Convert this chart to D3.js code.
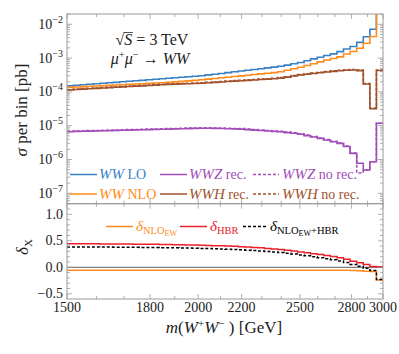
<!DOCTYPE html>
<html>
<head>
<meta charset="utf-8">
<script src="https://cdn.jsdelivr.net/npm/d3@7"></script>
<style>
  body { margin: 0; background: #fff; }
</style>
</head>
<body>
<div id="chart"></div>
<script>
// bin edges of m(W+W-) in GeV (48 bins)
const binEdges = [1500,1522,1544,1566,1589,1612,1636,1660,1684,1708,1733,1758,1784,1810,1836,1863,1890,1917,1945,1974,2002,2031,2061,2091,2121,2152,2184,2215,2247,2280,2313,2347,2381,2416,2451,2487,2523,2559,2597,2634,2673,2712,2751,2791,2832,2873,2915,2957,3000];

// sigma per bin [pb]
const wwLO = [1.51e-4,1.57e-4,1.62e-4,1.68e-4,1.74e-4,1.80e-4,1.86e-4,1.92e-4,1.99e-4,2.06e-4,2.13e-4,2.20e-4,2.28e-4,2.36e-4,2.46e-4,2.54e-4,
  2.63e-4,2.72e-4,2.82e-4,2.91e-4,3.01e-4,3.18e-4,3.34e-4,3.52e-4,3.72e-4,3.93e-4,4.15e-4,4.38e-4,4.60e-4,4.86e-4,5.13e-4,5.42e-4,
  5.72e-4,6.21e-4,6.78e-4,7.41e-4,8.38e-4,9.47e-4,1.06e-3,1.19e-3,1.33e-3,1.55e-3,1.86e-3,2.20e-3,2.93e-3,4.30e-3,7.11e-3,3.0e-2];
const wwNLO = [1.37e-4,1.40e-4,1.43e-4,1.47e-4,1.50e-4,1.53e-4,1.57e-4,1.60e-4,1.63e-4,1.68e-4,1.71e-4,1.75e-4,1.80e-4,1.83e-4,1.87e-4,1.92e-4,
  1.98e-4,2.05e-4,2.12e-4,2.19e-4,2.28e-4,2.39e-4,2.49e-4,2.61e-4,2.72e-4,2.86e-4,2.97e-4,3.12e-4,3.27e-4,3.41e-4,3.57e-4,3.72e-4,
  3.94e-4,4.36e-4,4.82e-4,5.35e-4,6.04e-4,6.78e-4,7.72e-4,8.79e-4,9.73e-4,1.09e-3,1.32e-3,1.57e-3,1.95e-3,2.74e-3,4.36e-3,3.0e-2];
const wwzRec = [6.68e-6,6.78e-6,6.83e-6,6.92e-6,7.01e-6,7.06e-6,7.16e-6,7.26e-6,7.31e-6,7.41e-6,7.52e-6,7.57e-6,7.67e-6,7.78e-6,7.82e-6,7.93e-6,
  8.04e-6,8.15e-6,8.20e-6,8.32e-6,8.38e-6,8.38e-6,8.32e-6,8.26e-6,8.15e-6,8.04e-6,7.93e-6,7.67e-6,7.41e-6,7.21e-6,6.97e-6,6.78e-6,
  6.61e-6,6.25e-6,5.96e-6,5.61e-6,5.10e-6,4.63e-6,4.21e-6,3.77e-6,3.36e-6,2.99e-6,2.43e-6,1.52e-6,7.72e-7,4.89e-7,8.61e-7,1.18e-5];
const wwzNoRec = [6.88e-6,6.98e-6,7.03e-6,7.13e-6,7.22e-6,7.27e-6,7.37e-6,7.48e-6,7.53e-6,7.63e-6,7.75e-6,7.80e-6,7.90e-6,8.01e-6,8.05e-6,8.17e-6,
  8.28e-6,8.39e-6,8.45e-6,8.57e-6,8.63e-6,8.63e-6,8.57e-6,8.51e-6,8.39e-6,8.28e-6,8.17e-6,7.90e-6,7.63e-6,7.43e-6,7.18e-6,6.98e-6,
  6.81e-6,6.44e-6,6.14e-6,5.78e-6,5.25e-6,4.77e-6,4.34e-6,3.88e-6,3.46e-6,3.08e-6,2.50e-6,1.55e-6,4.0e-7,4.89e-7,8.61e-7,1.18e-5];
const wwhRec = [1.15e-4,1.18e-4,1.21e-4,1.24e-4,1.27e-4,1.30e-4,1.34e-4,1.37e-4,1.41e-4,1.44e-4,1.48e-4,1.51e-4,1.55e-4,1.59e-4,1.63e-4,1.67e-4,
  1.70e-4,1.73e-4,1.75e-4,1.78e-4,1.81e-4,1.86e-4,1.91e-4,1.96e-4,2.03e-4,2.09e-4,2.14e-4,2.20e-4,2.26e-4,2.33e-4,2.39e-4,2.46e-4,
  2.56e-4,2.74e-4,2.95e-4,3.18e-4,3.34e-4,3.52e-4,3.70e-4,3.88e-4,4.06e-4,4.24e-4,4.39e-4,4.45e-4,4.27e-4,1.71e-4,3.16e-5,4.30e-4];
const wwhNoRec = [1.18e-4,1.21e-4,1.25e-4,1.28e-4,1.31e-4,1.34e-4,1.38e-4,1.41e-4,1.45e-4,1.48e-4,1.52e-4,1.56e-4,1.60e-4,1.64e-4,1.68e-4,1.72e-4,
  1.75e-4,1.78e-4,1.80e-4,1.83e-4,1.86e-4,1.92e-4,1.97e-4,2.02e-4,2.09e-4,2.15e-4,2.20e-4,2.27e-4,2.33e-4,2.40e-4,2.46e-4,2.53e-4,
  2.64e-4,2.82e-4,3.04e-4,3.28e-4,3.44e-4,3.63e-4,3.81e-4,4.00e-4,4.18e-4,4.37e-4,4.52e-4,4.58e-4,4.40e-4,1.76e-4,3.30e-5,4.43e-4];

// relative corrections
const deltaNLO = [-0.055,-0.055,-0.055,-0.055,-0.055,-0.055,-0.055,-0.055,-0.055,-0.055,-0.055,-0.055,-0.055,-0.055,-0.055,-0.055,
  -0.055,-0.055,-0.055,-0.055,-0.055,-0.055,-0.055,-0.055,-0.055,-0.055,-0.055,-0.055,-0.055,-0.055,-0.055,-0.055,
  -0.055,-0.055,-0.055,-0.055,-0.055,-0.055,-0.055,-0.055,-0.055,-0.055,-0.055,-0.06,-0.065,-0.075,-0.08,-0.24];
const deltaHBR = [0.445,0.445,0.444,0.444,0.443,0.442,0.441,0.440,0.439,0.438,0.437,0.436,0.434,0.433,0.431,0.429,
  0.427,0.425,0.422,0.420,0.417,0.413,0.409,0.405,0.400,0.395,0.389,0.383,0.376,0.368,0.357,0.347,
  0.336,0.323,0.309,0.290,0.275,0.258,0.240,0.222,0.202,0.180,0.150,0.115,0.085,0.055,0.015,0.012];
const deltaSum = [0.385,0.385,0.384,0.384,0.383,0.382,0.381,0.380,0.379,0.378,0.377,0.376,0.374,0.373,0.371,0.369,
  0.367,0.365,0.362,0.360,0.357,0.353,0.349,0.345,0.340,0.335,0.329,0.323,0.316,0.308,0.300,0.290,
  0.279,0.266,0.252,0.233,0.218,0.200,0.182,0.163,0.143,0.120,0.090,0.055,0.020,-0.020,-0.060,-0.23];

const xMajor = [1500,1800,2000,2200,2500,2800,3000];
const xMinor = [1600,1700,1900,2100,2300,2400,2600,2700,2900];
const yTopMajor = [-2,-3,-4,-5,-6,-7];
const yBotMajor = [1.0,0.5,0.0,-0.5];

const W = 399, H = 354;
const pL = 67, pR = 383, pT = 14, pM = 203.7, pB = 299;
const FONT = "Liberation Serif";

const col = {blue:"#3b7fc4", orange:"#ff8c1a", purple:"#a24db8", brown:"#a0522d", red:"#e8212b", frame:"#9a9a9a"};

const svg = d3.select("#chart").append("svg").attr("width", W).attr("height", H);

// every text goes through here so the serif font is set on the element itself
function txt(xx, yy, size) {
  return svg.append("text").attr("x", xx).attr("y", yy)
    .attr("font-family", FONT).attr("font-size", size).attr("fill", "#222");
}

const x = d3.scaleLog().domain([1500, 3000]).range([pL, pR]);
const yTop = d3.scaleLog().domain([Math.pow(10,-7.308), Math.pow(10,-1.695)]).range([pM, pT]);
const yBot = d3.scaleLinear().domain([-0.598, 1.2]).range([pB, pM]);

svg.append("clipPath").attr("id","clipTop").append("rect")
  .attr("x", pL).attr("y", pT).attr("width", pR-pL).attr("height", pM-pT);
svg.append("clipPath").attr("id","clipBot").append("rect")
  .attr("x", pL).attr("y", pM).attr("width", pR-pL).attr("height", pB-pM);

function pts(vals) {
  return vals.map((v,i) => [binEdges[i], v]).concat([[binEdges[vals.length], vals[vals.length-1]]]);
}
function step(yScale) {
  return d3.line().x(d => x(d[0])).y(d => yScale(d[1])).curve(d3.curveStepAfter);
}

// upper panel histograms
const gTop = svg.append("g").attr("clip-path","url(#clipTop)");
const topSeries = [
  [wwLO, col.blue, null],
  [wwNLO, col.orange, null],
  [wwzRec, col.purple, null],
  [wwzNoRec, col.purple, "3,2"],
  [wwhRec, col.brown, null],
  [wwhNoRec, col.brown, "3,2"]
];
topSeries.forEach(s => {
  gTop.append("path").attr("d", step(yTop)(pts(s[0])))
    .attr("fill","none").attr("stroke", s[1]).attr("stroke-width", 1.6)
    .attr("stroke-dasharray", s[2]);
});

// lower panel
const gBot = svg.append("g").attr("clip-path","url(#clipBot)");
gBot.append("line").attr("x1", pL).attr("x2", pR).attr("y1", yBot(0)).attr("y2", yBot(0))
  .attr("stroke", "#808080").attr("stroke-width", 1.2);
[[deltaNLO, col.orange, null],[deltaHBR, col.red, null],[deltaSum, "#000", "3,2"]].forEach(s => {
  gBot.append("path").attr("d", step(yBot)(pts(s[0])))
    .attr("fill","none").attr("stroke", s[1]).attr("stroke-width", 1.5)
    .attr("stroke-dasharray", s[2]);
});

// frames
[[pT, pM],[pM, pB]].forEach(p => {
  svg.append("rect").attr("x", pL).attr("y", p[0]).attr("width", pR-pL).attr("height", p[1]-p[0])
    .attr("fill","none").attr("stroke", col.frame).attr("stroke-width", 1);
});

const tk = svg.append("g").attr("stroke", col.frame).attr("stroke-width", 0.8);
// x ticks on every horizontal frame edge
[[pT, 1],[pM, -1],[pM, 1],[pB, -1]].forEach(e => {
  xMajor.forEach(v => tk.append("line").attr("x1", x(v)).attr("x2", x(v)).attr("y1", e[0]).attr("y2", e[0] + e[1]*5));
  xMinor.forEach(v => tk.append("line").attr("x1", x(v)).attr("x2", x(v)).attr("y1", e[0]).attr("y2", e[0] + e[1]*3));
});
// y ticks upper panel
for (let n = -8; n <= -2; n++) {
  for (let k = 1; k <= 9; k++) {
    const v = k * Math.pow(10, n);
    const yy = yTop(v);
    if (yy < pT || yy > pM) continue;
    const len = k === 1 ? 5 : 3;
    tk.append("line").attr("x1", pL).attr("x2", pL+len).attr("y1", yy).attr("y2", yy);
    tk.append("line").attr("x1", pR).attr("x2", pR-len).attr("y1", yy).attr("y2", yy);
  }
}
// y ticks lower panel
for (let i = -5; i <= 12; i++) {
  const v = i / 10, yy = yBot(v);
  const len = i % 5 === 0 ? 5 : 3;
  tk.append("line").attr("x1", pL).attr("x2", pL+len).attr("y1", yy).attr("y2", yy);
  tk.append("line").attr("x1", pR).attr("x2", pR-len).attr("y1", yy).attr("y2", yy);
}

// tick labels
yTopMajor.forEach(n => {
  const t = txt(63, yTop(Math.pow(10,n)) + 4.5, 14).attr("text-anchor","end");
  t.append("tspan").text("10");
  t.append("tspan").attr("dy", -6).attr("font-size", 10).text("\u2212" + Math.abs(n));
});
yBotMajor.forEach(v => {
  txt(63, yBot(v) + 4.5, 14).attr("text-anchor","end")
    .text(d3.format(".1f")(v).replace("-", "\u2212"));
});
xMajor.forEach(v => {
  txt(x(v), 312, 14).attr("text-anchor","middle").text(v);
});

// axis titles
const xt = txt(224, 333, 17).attr("text-anchor","middle");
xt.append("tspan").attr("font-style","italic").text("m");
xt.append("tspan").text("(");
xt.append("tspan").attr("font-style","italic").text("W");
xt.append("tspan").attr("dy", -6).attr("font-size", 11).text("+");
xt.append("tspan").attr("dy", 6).attr("font-style","italic").text("W");
xt.append("tspan").attr("dy", -6).attr("font-size", 11).text("\u2212");
xt.append("tspan").attr("dy", 6).text(" ) [GeV]");

const yt = txt(0, 0, 17).attr("transform","translate(27,110) rotate(-90)").attr("text-anchor","middle");
yt.append("tspan").attr("font-style","italic").text("\u03c3");
yt.append("tspan").text(" per bin [pb]");

const dt = txt(0, 0, 17).attr("transform","translate(28,247) rotate(-90)").attr("text-anchor","middle");
dt.append("tspan").attr("font-style","italic").text("\u03b4");
dt.append("tspan").attr("dy", 4).attr("font-size", 11).text("X");

// process annotation
const a1 = txt(152, 45, 16).attr("text-anchor","middle");
a1.append("tspan").text("\u221a");
a1.append("tspan").attr("font-style","italic").text("S");
a1.append("tspan").text(" = 3 TeV");
{
  const node = a1.node();
  const x0 = 152 - node.getComputedTextLength() / 2;
  const wR = node.getSubStringLength(0, 1), wS = node.getSubStringLength(1, 1);
  svg.append("line").attr("x1", x0 + wR - 0.5).attr("x2", x0 + wR + wS + 0.5)
    .attr("y1", 32.5).attr("y2", 32.5).attr("stroke", "#222").attr("stroke-width", 0.8);
}
const a2 = txt(150, 64, 16).attr("text-anchor","middle");
a2.append("tspan").attr("font-style","italic").text("\u03bc");
a2.append("tspan").attr("dy", -6).attr("font-size", 10.5).text("+");
a2.append("tspan").attr("dy", 6).attr("font-style","italic").text("\u03bc");
a2.append("tspan").attr("dy", -6).attr("font-size", 10.5).text("\u2212");
a2.append("tspan").attr("dy", 6).text(" \u2192 ");
a2.append("tspan").attr("font-style","italic").text("WW");

// upper legend
const legTop = [
  {x1: 70, x2: 97, tx: 99, y: 174.5, c: col.blue, dash: null, it: "WW", rm: " LO"},
  {x1: 160, x2: 187, tx: 189, y: 174.5, c: col.purple, dash: null, it: "WWZ", rm: " rec."},
  {x1: 253, x2: 279, tx: 282, y: 174.5, c: col.purple, dash: "3,2", it: "WWZ", rm: " no rec."},
  {x1: 70, x2: 97, tx: 99, y: 194, c: col.orange, dash: null, it: "WW", rm: " NLO"},
  {x1: 160, x2: 187, tx: 189, y: 194, c: col.brown, dash: null, it: "WWH", rm: " rec."},
  {x1: 253, x2: 279, tx: 282, y: 194, c: col.brown, dash: "3,2", it: "WWH", rm: " no rec."}
];
legTop.forEach(d => {
  svg.append("line").attr("x1", d.x1).attr("x2", d.x2).attr("y1", d.y).attr("y2", d.y)
    .attr("stroke", d.c).attr("stroke-width", 1.5).attr("stroke-dasharray", d.dash);
  const t = txt(d.tx, d.y + 4.5, 15).attr("fill", d.c);
  t.append("tspan").attr("font-style","italic").text(d.it);
  t.append("tspan").attr("font-size", 14).text(d.rm);
});

// lower legend
const legBot = [
  {x1: 106, x2: 133, tx: 136, c: col.orange, dash: null, sub: "NLO", subsub: "EW", tail: ""},
  {x1: 180, x2: 207, tx: 210, c: col.red, dash: null, sub: "HBR", subsub: "", tail: ""},
  {x1: 243, x2: 267, tx: 270, c: "#000", dash: "3,2", sub: "NLO", subsub: "EW", tail: "+HBR"}
];
legBot.forEach(d => {
  const yy = 226.5;
  svg.append("line").attr("x1", d.x1).attr("x2", d.x2).attr("y1", yy).attr("y2", yy)
    .attr("stroke", d.c).attr("stroke-width", 1.5).attr("stroke-dasharray", d.dash);
  const t = txt(d.tx, yy + 4, 15).attr("fill", d.c);
  t.append("tspan").attr("font-style","italic").text("\u03b4");
  t.append("tspan").attr("dy", 3).attr("font-size", 10.5).text(d.sub);
  if (d.subsub) t.append("tspan").attr("dy", 2).attr("font-size", 8).text(d.subsub);
  if (d.tail) t.append("tspan").attr("dy", -2).attr("font-size", 10.5).text(d.tail);
});
</script>
</body>
</html>
